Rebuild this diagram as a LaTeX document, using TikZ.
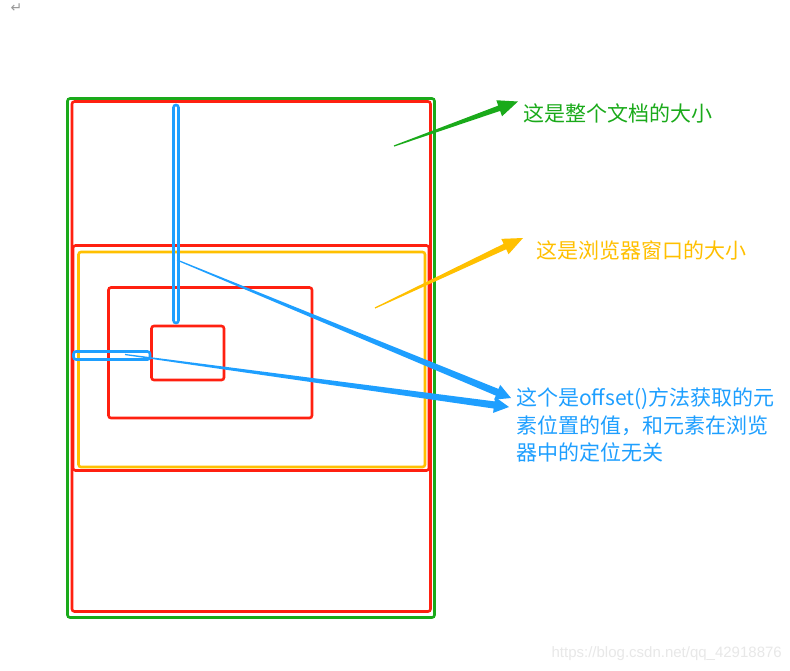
\documentclass[tikz,border=0pt]{standalone}
\usepackage{fontspec}
\newfontfamily\cjk{Noto Sans CJK SC}
\newfontfamily\dejavu{DejaVu Sans}
\newfontfamily\wmfont{Liberation Sans}
\usetikzlibrary{calc}
\definecolor{cgreen}{RGB}{26,170,26}
\definecolor{cred}{RGB}{255,32,16}
\definecolor{cyellow}{RGB}{255,192,0}
\definecolor{cblue}{RGB}{30,159,255}
\newcommand{\taperarrow}[6]{%
  \coordinate (ta-b) at ($(#3)!#4!(#2)$);
  \fill[#1] ($(#2)!0.6pt!90:(#3)$) -- ($(ta-b)!#6!90:(#3)$) -- ($(ta-b)!#5!90:(#3)$) -- (#3)
    -- ($(ta-b)!#5!-90:(#3)$) -- ($(ta-b)!#6!-90:(#3)$) -- ($(#2)!0.6pt!-90:(#3)$) -- cycle;
}
\tikzset{
  frame/.style={draw=#1, line width=2.6pt, rounded corners=2.5pt},
  lbl/.style={text=#1, font=\cjk\fontsize{21}{28}\selectfont, inner sep=0pt, anchor=base west},
}
\begin{document}
\begin{tikzpicture}[x=1pt,y=-1pt]
\useasboundingbox[fill=white] (0,0) rectangle (790,670);
% rectangles
\draw[frame=cgreen] (67.5,98.5) rectangle (434.5,617.5);
\draw[frame=cred] (72,101.5) rectangle (430.5,611.5);
\draw[frame=cred] (73,245.5) rectangle (429,470.5);
\draw[frame=cyellow] (78.5,252) rectangle (425,467);
\draw[frame=cred] (108.5,287.5) rectangle (312,418);
\draw[frame=cred] (151.5,326) rectangle (224,380);
\draw[frame=cblue] (173.5,105) rectangle (178.5,323);
\draw[frame=cblue] (73.5,351.5) rectangle (150,359.5);
% labels
\node[lbl=cgreen] (tdoc) at (523,121) {这是整个文档的大小};
\node[lbl=cyellow] (twin) at (536,258) {这是浏览器窗口的大小};
\node[lbl=cblue] (toff1) at (516,405) {这个是offset()方法获取的元};
\node[lbl=cblue] (toff2) at (516,433) {素位置的值，和元素在浏览};
\node[lbl=cblue] (toff3) at (516,460.5) {器中的定位无关};
% arrow end points
\coordinate (gs) at (394,146);
\coordinate (gt) at (518,101.5);
\coordinate (ys) at (375,308);
\coordinate (yt) at (523,238);
\coordinate (bs1) at (177,260);
\coordinate (bt1) at (511,398);
\coordinate (bs2) at (125,354.5);
\coordinate (bt2) at (509,407);
\taperarrow{cgreen}{gs}{gt}{20pt}{8.5pt}{2.8pt}
\taperarrow{cyellow}{ys}{yt}{20pt}{8.5pt}{3pt}
\taperarrow{cblue}{bs1}{bt1}{15pt}{8pt}{3.6pt}
\taperarrow{cblue}{bs2}{bt2}{15pt}{8pt}{3.6pt}
% marks
\node[text=gray!80, font=\dejavu\fontsize{14}{14}\selectfont, inner sep=0pt] (ret) at (16.5,8.5) {↵};
\node[text=black!9, font=\wmfont\fontsize{15}{15}\selectfont, inner sep=0pt, anchor=base east] (wm) at (782,657) {https://blog.csdn.net/qq\_42918876};
\end{tikzpicture}
\end{document}
